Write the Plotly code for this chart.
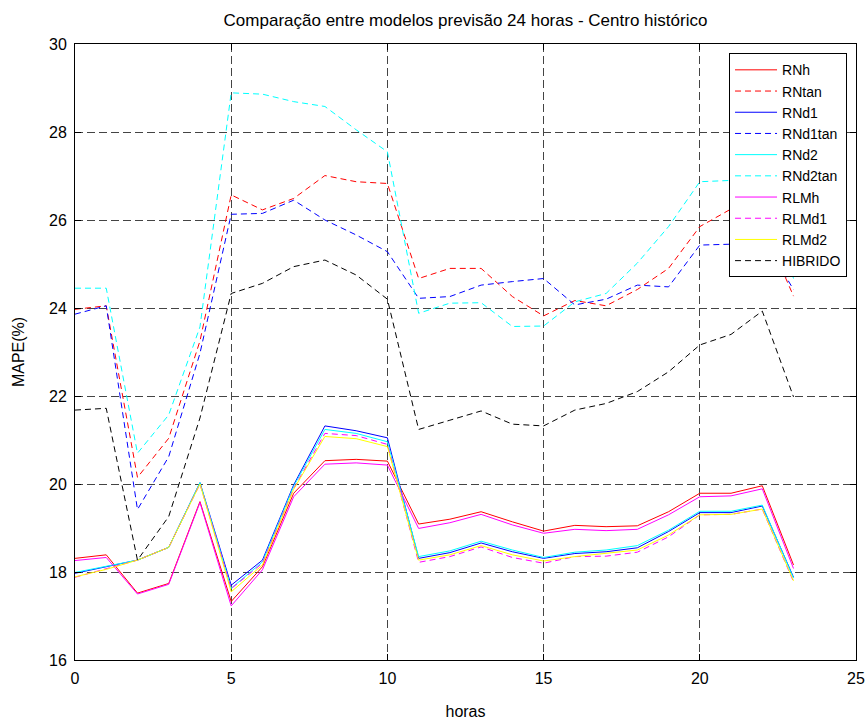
import plotly.graph_objects as go

# Hour of day (0-23)
horas = list(range(24))

# MAPE (%) per model, 24-hour-ahead forecast
rnh = [18.31, 18.39, 17.52, 17.74, 19.60, 17.33, 18.12, 19.79, 20.53, 20.56, 20.52, 19.09,
       19.20, 19.37, 19.14, 18.93, 19.06, 19.03, 19.05, 19.37, 19.79, 19.79, 19.96, 18.16]
rntan = [23.97, 24.05, 20.15, 21.04, 23.25, 26.57, 26.23, 26.49, 27.01, 26.87, 26.83, 24.67,
         24.90, 24.90, 24.26, 23.82, 24.17, 24.05, 24.42, 24.90, 25.85, 26.25, 25.90, 24.27]
rnd1 = [17.97, 18.12, 18.27, 18.56, 20.03, 17.70, 18.27, 19.98, 21.32, 21.21, 21.05, 18.31,
        18.44, 18.66, 18.46, 18.31, 18.42, 18.46, 18.55, 18.92, 19.35, 19.35, 19.50, 17.88]
rnd1tan = [23.86, 24.05, 19.42, 20.62, 22.97, 26.13, 26.15, 26.45, 26.00, 25.66, 25.28, 24.22,
           24.26, 24.52, 24.60, 24.67, 24.07, 24.20, 24.52, 24.48, 25.43, 25.45, 25.60, 24.42]
rnd2 = [17.99, 18.13, 18.27, 18.56, 20.03, 17.63, 18.23, 19.95, 21.24, 21.15, 20.96, 18.35,
        18.48, 18.70, 18.50, 18.33, 18.45, 18.50, 18.60, 18.95, 19.38, 19.38, 19.52, 17.86]
rnd2tan = [24.45, 24.45, 20.70, 21.57, 23.57, 28.89, 28.86, 28.69, 28.58, 28.05, 27.55, 23.88,
           24.11, 24.12, 23.58, 23.59, 24.14, 24.33, 25.02, 25.85, 26.87, 26.90, 26.90, 24.67]
rlmh = [18.26, 18.33, 17.50, 17.72, 19.58, 17.23, 18.05, 19.71, 20.45, 20.48, 20.43, 18.99,
        19.12, 19.31, 19.07, 18.88, 18.97, 18.94, 18.97, 19.30, 19.71, 19.73, 19.89, 18.08]
rlmd1 = [17.88, 18.07, 18.27, 18.56, 20.00, 17.62, 18.20, 19.90, 21.15, 21.10, 20.90, 18.22,
         18.35, 18.57, 18.33, 18.20, 18.35, 18.36, 18.45, 18.80, 19.30, 19.31, 19.43, 17.78]
rlmd2 = [17.89, 18.06, 18.27, 18.56, 20.00, 17.55, 18.16, 19.88, 21.08, 21.03, 20.85, 18.27,
         18.39, 18.60, 18.39, 18.25, 18.35, 18.42, 18.50, 18.84, 19.30, 19.31, 19.43, 17.80]
hibrido = [21.68, 21.72, 18.27, 19.26, 21.50, 24.33, 24.56, 24.94, 25.09, 24.75, 24.20, 21.24,
           21.45, 21.66, 21.36, 21.32, 21.68, 21.83, 22.10, 22.55, 23.16, 23.40, 23.93, 21.98]

DASH = "6px,4px"
series = [
    ("RNh", rnh, "#ff0000", "solid"),
    ("RNtan", rntan, "#ff0000", DASH),
    ("RNd1", rnd1, "#0000ff", "solid"),
    ("RNd1tan", rnd1tan, "#0000ff", DASH),
    ("RNd2", rnd2, "#00ffff", "solid"),
    ("RNd2tan", rnd2tan, "#00ffff", DASH),
    ("RLMh", rlmh, "#ff00ff", "solid"),
    ("RLMd1", rlmd1, "#ff00ff", DASH),
    ("RLMd2", rlmd2, "#ffff00", "solid"),
    ("HIBRIDO", hibrido, "#000000", DASH),
]

fig = go.Figure()
for name, vals, color, dash in series:
    fig.add_trace(go.Scatter(
        x=horas, y=vals, name=name, mode="lines",
        line=dict(color=color, width=1, dash=dash),
    ))

FONT = "Liberation Sans, Arial, sans-serif"
axis_common = dict(
    showline=True, linecolor="black", linewidth=1, mirror="ticks",
    ticks="inside", ticklen=6, tickcolor="black",
    showgrid=True, gridcolor="#444444", gridwidth=1, griddash="8px,4px",
    zeroline=False, automargin=False, ticklabelstandoff=4,
    tickfont=dict(size=16, color="black", family=FONT),
)

fig.update_layout(
    width=866, height=720,
    margin=dict(l=75, r=10, t=44, b=60, autoexpand=False),
    paper_bgcolor="white", plot_bgcolor="white",
    font=dict(family=FONT, color="black", size=16),
    title=dict(
        text="Comparação entre modelos previsão 24 horas - Centro histórico",
        x=0.5, xref="paper", y=1 - 20 / 720, yref="container", yanchor="middle",
        font=dict(size=17, color="black", family=FONT),
    ),
    xaxis=dict(range=[0, 25], dtick=5, tick0=0,
               title=dict(text="horas", standoff=20, font=dict(size=16)),
               **axis_common),
    yaxis=dict(range=[16, 30], dtick=2, tick0=16,
               title=dict(text="MAPE(%)", standoff=20, font=dict(size=16)),
               **axis_common),
    legend=dict(
        x=0.9885, xanchor="right", y=0.985, yanchor="top",
        bgcolor="white", bordercolor="black", borderwidth=1,
        font=dict(size=14, color="black", family=FONT),
        itemwidth=42, tracegroupgap=0,
    ),
    showlegend=True,
)

fig.write_html("out.html")
